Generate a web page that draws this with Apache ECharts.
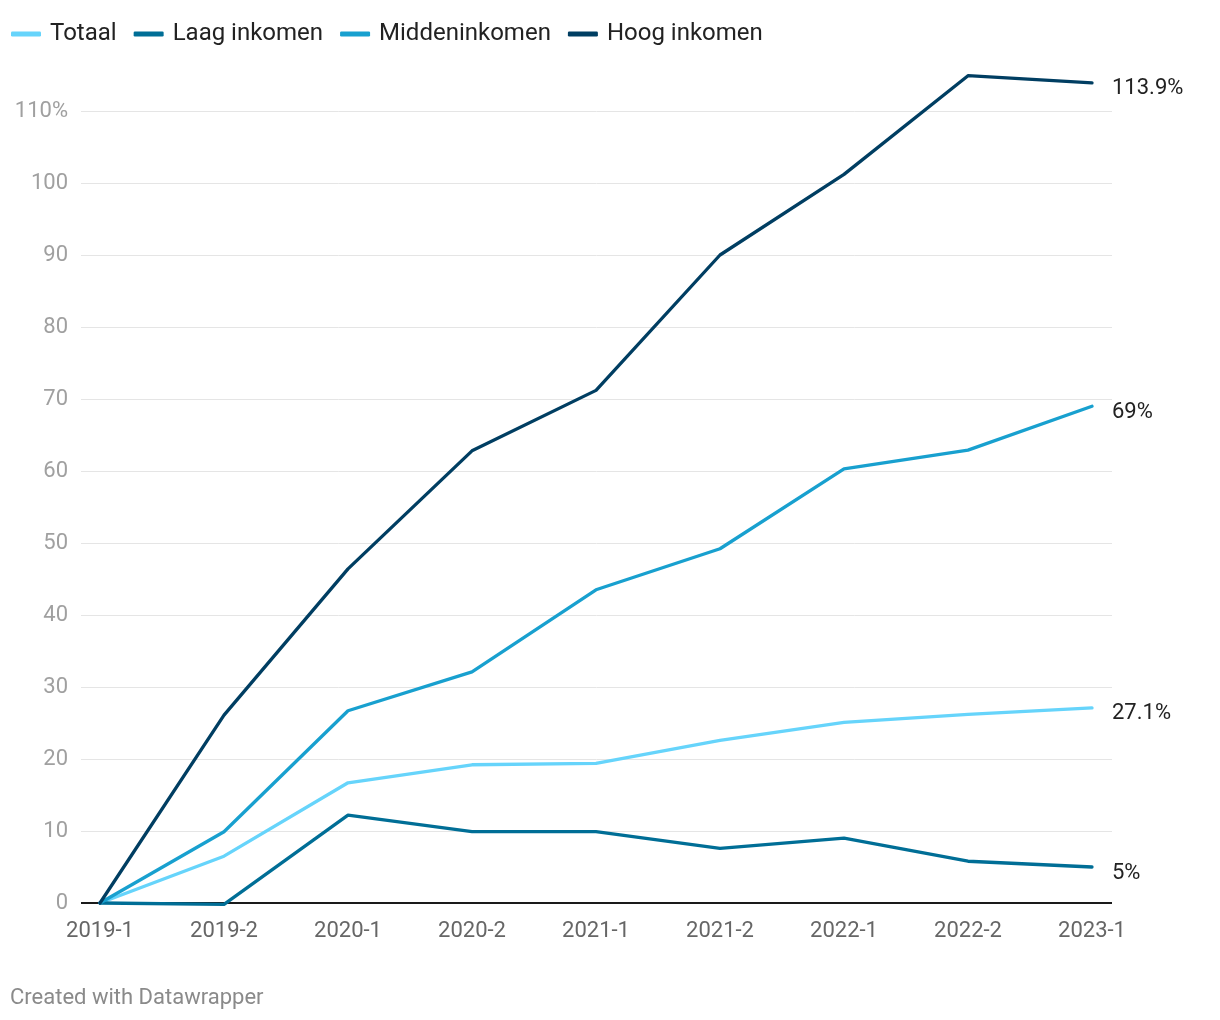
<!DOCTYPE html>
<html><head><meta charset="utf-8">
<script src="https://cdn.jsdelivr.net/npm/echarts@6/dist/echarts.min.js"></script>
<style>html,body{margin:0;padding:0;background:#fff}#c{width:1220px;height:1020px}</style>
</head><body><div id="c"></div>
<script>
const categories = ['2019-1','2019-2','2020-1','2020-2','2021-1','2021-2','2022-1','2022-2','2023-1'];
const totaal = [0, 6.5, 16.7, 19.2, 19.4, 22.6, 25.1, 26.2, 27.1];
const laag = [0, -0.2, 12.2, 9.9, 9.9, 7.6, 9.0, 5.8, 5.0];
const midden = [0, 9.9, 26.7, 32.1, 43.5, 49.2, 60.3, 62.9, 69.0];
const hoog = [0, 26.1, 46.4, 62.8, 71.2, 90.0, 101.2, 114.9, 113.9];
const seriesNames = ['Totaal','Laag inkomen','Middeninkomen','Hoog inkomen'];
const colors = ['#66d4fb','#006e96','#18a0cf','#003e62'];

const font = 'Roboto, "Noto Sans", sans-serif';
const chart = echarts.init(document.getElementById('c'), null, {renderer:'canvas'});
const allData = [totaal, laag, midden, hoog];
const fmtEnd = v => (Math.round(v*10)/10) + '%';
chart.setOption({
  animation:false,
  textStyle:{fontFamily:font},
  legend:{
    left:11, top:22, padding:0, itemWidth:30, itemHeight:5, itemGap:17,
    icon:'roundRect',
    textStyle:{fontSize:24, color:'#222', fontFamily:font, padding:[0,0,0,4]},
    data: seriesNames
  },
  graphic:[{type:'text', left:10, top:987, style:{text:'Created with Datawrapper', fill:'#8a8a8a', fontSize:22, fontFamily:font}}],
  grid:[
    {left:81, right:108, top:111, bottom:117},
    {left:100, right:128, top:111, bottom:117}
  ],
  xAxis:[
    {gridIndex:0, type:'value', min:0, max:1, show:false},
    {gridIndex:1, type:'category', data:categories, boundaryGap:false,
     axisLine:{show:false}, axisTick:{show:false},
     axisLabel:{color:'#666', fontSize:22, margin:17, fontFamily:font}}
  ],
  yAxis:[
    {gridIndex:0, type:'value', min:0, max:110, interval:10,
     axisLine:{show:false}, axisTick:{show:false},
     axisLabel:{color:'#a0a0a0', fontSize:22, margin:13, fontFamily:font, padding:[3,0,0,0],
       formatter: v => v===110 ? '110%' : String(v)},
     splitLine:{lineStyle:{color:'#e5e5e5', width:1}}},
    {gridIndex:1, type:'value', min:0, max:110, interval:10, show:false, splitLine:{show:false}}
  ],
  series: [
    {type:'line', xAxisIndex:0, yAxisIndex:0, data:[[0,0],[1,0]], symbol:'none', silent:true,
     itemStyle:{color:'#1a1a1a'}, lineStyle:{color:'#1a1a1a', width:2}, z:1, name:'_base'}
  ].concat(seriesNames.map((n,i)=>({
    name:n, type:'line', xAxisIndex:1, yAxisIndex:1, data:allData[i], symbol:'none', clip:false,
    itemStyle:{color:colors[i]}, lineStyle:{width:3.3, color:colors[i], cap:'round', join:'round'}, z:5,
    endLabel:{show:true, formatter: p => fmtEnd(p.value), color:'#222', fontSize:22, distance:20, offset:[0,6], fontFamily:font}
  })))
});
</script></body></html>
